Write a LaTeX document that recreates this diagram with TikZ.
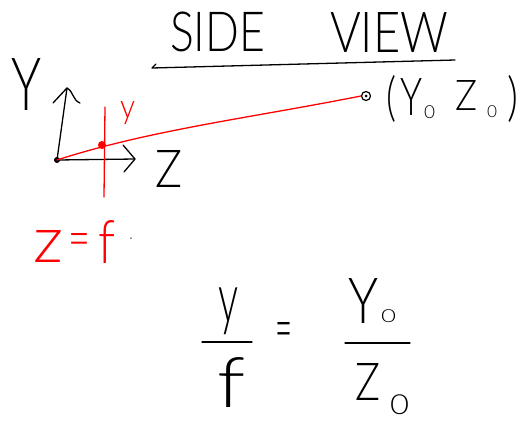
\documentclass[tikz,border=0pt]{standalone}
\usepackage{fontspec}
\usepackage{graphicx}
\newfontfamily\hand{Lato Light}
\usetikzlibrary{arrows.meta}
\newcommand\fitbox[3]{\resizebox*{#1}{#2}{\hand #3}}
\begin{document}
\begin{tikzpicture}[x=1pt,y=-1pt,
  ink/.style={line width=1.3pt, line cap=round, line join=round},
  redink/.style={ink, draw=red},
  txt/.style={inner sep=0pt, outer sep=0pt, anchor=north west},
  redtxt/.style={txt, text=red}]
\useasboundingbox[fill=white] (0,0) rectangle (529,421);
% title
\node[txt] (side) at (170,12) {\fitbox{95pt}{40pt}{SIDE}};
\node[txt] (view) at (330,12) {\fitbox{118pt}{40pt}{VIEW}};
\coordinate (ulA) at (152,68);
\coordinate (ulB) at (455,60);
\draw[ink] (156,64) -- (ulA) -- (ulB);
% axes
\node[circle, fill=black, minimum size=6pt, inner sep=0pt] (O) at (57,160) {};
\coordinate (ytip) at (67,88);
\coordinate (yl) at (53,103);
\coordinate (yr) at (80,103);
\coordinate (ztip) at (135,159);
\coordinate (zl) at (123,145);
\coordinate (zr) at (124,172);
\draw[ink] (O.center) -- (ytip);
\draw[ink] (yl) -- (ytip) to[out=-30,in=160] (yr);
\draw[ink] (O.center) -- (ztip);
\draw[ink] (zl) -- (ztip) -- (zr);
\node[txt] (Ylab) at (12,58) {\fitbox{30pt}{52pt}{Y}};
\node[txt] (Zlab) at (155,150) {\fitbox{27pt}{37pt}{Z}};
% image plane
\coordinate (pTop) at (105,107);
\coordinate (pBot) at (104,197);
\draw[redink] (pTop) -- (pBot);
% object point
\node[circle, draw, line width=1.2pt, minimum size=9pt, inner sep=0pt] (obj) at (366,96) {};
\node[circle, fill=black, minimum size=3pt, inner sep=0pt] (objc) at (366,96) {};
% ray
\draw[redink] (O.center) .. controls (150,130) and (250,118) .. (obj.west);
\node[circle, fill=red, minimum size=8pt, inner sep=0pt] (img) at (102,145) {};
\node[redtxt] (ylab) at (120,102) {\fitbox{15pt}{23pt}{y}};
% (Y0 Z0)
\node[txt] (lp) at (386,75) {\fitbox{10pt}{47pt}{(}};
\node[txt] (Y0) at (400,78) {\fitbox{22pt}{37pt}{Y}};
\node[txt] (Y0s) at (424,106) {\fitbox{11pt}{13pt}{0}};
\node[txt] (Z0) at (455,80) {\fitbox{22pt}{30pt}{Z}};
\node[txt] (Z0s) at (487,106) {\fitbox{10pt}{12pt}{0}};
\node[txt] (rp) at (507,75) {\fitbox{11pt}{47pt}{)}};
% z = f
\node[redtxt] (zf1) at (33,230) {\fitbox{30pt}{32pt}{z}};
\node[redtxt] (zf2) at (68,233) {\fitbox{22pt}{24pt}{=}};
\node[redtxt] (zf3) at (98,220) {\fitbox{17pt}{43pt}{f}};
\node[circle, fill=black, minimum size=1.5pt, inner sep=0pt] (dot) at (131,238) {};
% equation
\node[txt] (ny) at (218,288) {\fitbox{20pt}{47pt}{y}};
\coordinate (b1a) at (202,342);
\coordinate (b1b) at (252,342);
\draw[ink] (b1a) -- (b1b);
\node[txt] (df) at (217,357) {\fitbox{28pt}{50pt}{f}};
\node[txt] (eq) at (275,322) {\fitbox{17pt}{28pt}{=}};
\node[txt] (nY) at (348,278) {\fitbox{30pt}{45pt}{Y}};
\node[txt] (nYs) at (381,310) {\fitbox{15pt}{13pt}{0}};
\coordinate (b2a) at (345,343);
\coordinate (b2b) at (410,343);
\draw[ink] (b2a) -- (b2b);
\node[txt] (dZ) at (355,363) {\fitbox{25pt}{37pt}{Z}};
\node[txt] (dZs) at (390,395) {\fitbox{19pt}{20pt}{0}};
\end{tikzpicture}
\end{document}
